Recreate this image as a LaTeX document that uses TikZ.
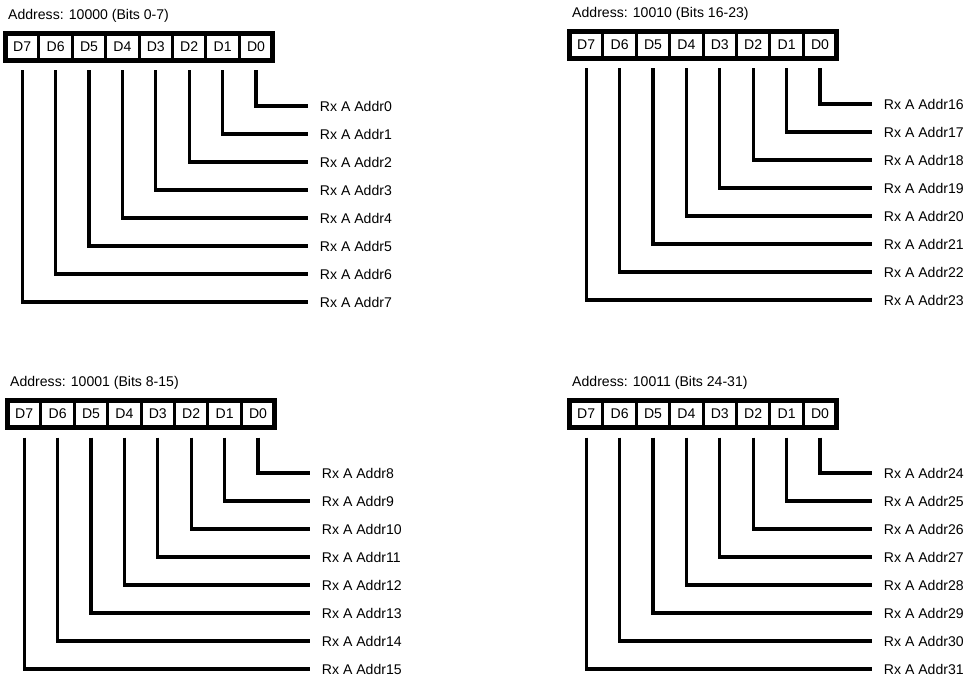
\documentclass[tikz,border=0pt]{standalone}
\usepackage{fontspec}
\setmainfont{Liberation Sans}
\usepackage{tikz}
\usetikzlibrary{positioning, fit, calc}

% one register byte: #1 name, #2/#3 top left corner (px), #4 title, #5 first address bit
\newcommand{\regblock}[5]{%
    \node[regtitle] (#1t) at ({#2+5},{#3-17}) {#4};
    \foreach \i in {7,...,0} {
        \node[bitcell] (#1d\i) at ({#2+19.2+(7-\i)*33.4},{#3+16}) {D\i};
    }
    \node[regframe, fit=(#1d7)(#1d0)] (#1f) {};
    \foreach \i [evaluate=\i as \n using {int(#5+\i)}] in {0,...,7} {
        \node[addrlabel] (#1a\i) at ({#2+305},{#3+75+\i*28}) {Rx A Addr\n};
        \draw[wire] (#1d\i.south) |- (#1a\i.west);
    }
}

\begin{document}
\begin{tikzpicture}[
    x=0.03cm, y=-0.03cm,
    font=\fontsize{12}{14.4}\selectfont,
    bitcell/.style={rectangle, draw, line width=2.6pt, outer sep=0pt,
                    minimum width=1.002cm, minimum height=0.81cm, inner sep=0pt},
    regframe/.style={rectangle, draw, line width=4.3pt, inner sep=0pt},
    regtitle/.style={anchor=west, inner sep=0pt, text height=8.6pt, text depth=0pt},
    addrlabel/.style={anchor=west, inner xsep=10pt, inner ysep=0pt,
                      text height=8.6pt, text depth=0pt},
    wire/.style={line width=2.6pt, shorten <=0.3cm}
]
    \useasboundingbox (0,0) rectangle (978,681);

    \regblock{tl}{3}{31}{Address: 10000 (Bits 0-7)}{0}
    \regblock{tr}{567}{29}{Address: 10010 (Bits 16-23)}{16}
    \regblock{bl}{5}{398}{Address: 10001 (Bits 8-15)}{8}
    \regblock{br}{567}{398}{Address: 10011 (Bits 24-31)}{24}
\end{tikzpicture}
\end{document}
